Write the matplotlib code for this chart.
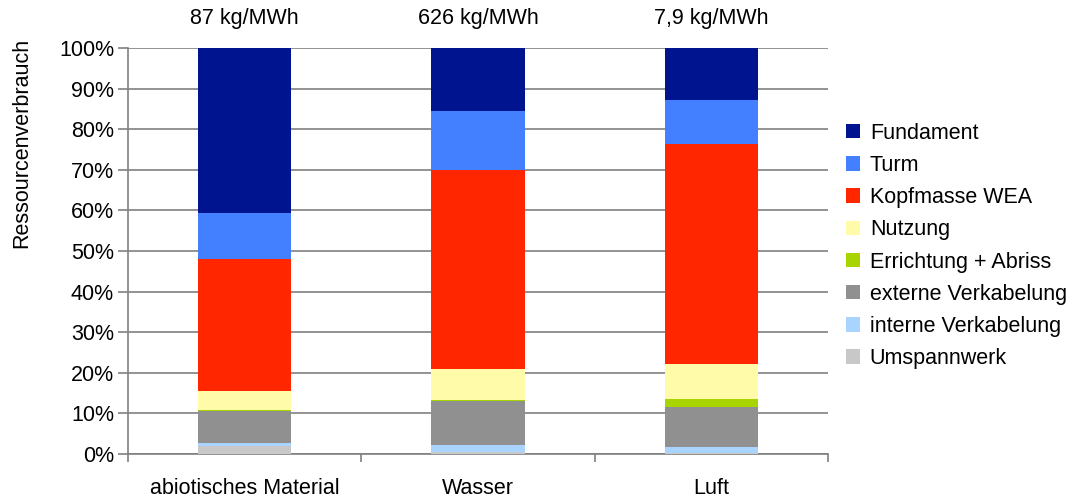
import matplotlib
matplotlib.use("Agg")
import matplotlib.pyplot as plt
from matplotlib.patches import Patch
import numpy as np

plt.rcParams['font.family'] = ['Liberation Sans', 'DejaVu Sans']

categories = ["abiotisches Material", "Wasser", "Luft"]
totals = ["87 kg/MWh", "626 kg/MWh", "7,9 kg/MWh"]

# shares in % (bottom to top)
umspannwerk = [2.0, 0.5, 0.2]
interne = [0.8, 1.7, 1.5]
externe = [7.9, 10.8, 10.0]
errichtung = [0.1, 0.3, 1.8]
nutzung = [4.8, 7.7, 8.7]
kopfmasse = [32.4, 48.9, 54.2]
turm = [11.4, 14.5, 10.8]
fundament = [40.6, 15.6, 12.8]

series = [
    ("Umspannwerk", umspannwerk, "#C8C8C8"),
    ("interne Verkabelung", interne, "#A8D4FF"),
    ("externe Verkabelung", externe, "#909090"),
    ("Errichtung + Abriss", errichtung, "#A8D400"),
    ("Nutzung", nutzung, "#FFFBA8"),
    ("Kopfmasse WEA", kopfmasse, "#FF2600"),
    ("Turm", turm, "#4280FF"),
    ("Fundament", fundament, "#001490"),
]

FS = 15.5

fig = plt.figure(figsize=(10.82, 5.01), dpi=100)
ax = fig.add_axes([0.1183, 0.0938, 0.647, 0.8104])

x = np.arange(len(categories))
bottom = np.zeros(len(categories))
for name, vals, col in series:
    ax.bar(x, vals, width=0.4, bottom=bottom, color=col, edgecolor='none', zorder=3)
    bottom += np.array(vals)

ax.set_xlim(-0.5, 2.5)
ax.set_ylim(0, 100)
ax.set_yticks(np.arange(0, 101, 10))
ax.set_yticklabels([f"{v}%" for v in range(0, 101, 10)], fontsize=FS)
ax.yaxis.grid(True, color='#808080', linewidth=1.2, zorder=0)
ax.set_axisbelow(True)

ax.set_xticks([-0.5, 0.5, 1.5, 2.5])
ax.set_xticklabels([])
ax.set_xticks(x, minor=True)
ax.set_xticklabels(categories, minor=True, fontsize=FS)
ax.tick_params(axis='x', which='minor', length=0, pad=17)
ax.tick_params(axis='x', which='major', length=6, color='#808080', width=1.2)
ax.tick_params(axis='y', length=7, color='#808080', width=1.2, pad=3)

for s in ['top', 'right']:
    ax.spines[s].set_visible(False)
for s in ['left', 'bottom']:
    ax.spines[s].set_color('#808080')
    ax.spines[s].set_linewidth(1.2)

for xi, t in zip(x, totals):
    ax.text(xi, 107.3, t, ha='center', va='center', fontsize=FS, clip_on=False)

fig.text(22 / 1082, 1 - 143 / 501, "Ressourcenverbrauch", rotation=90,
         ha='center', va='center', fontsize=FS)

handles = [Patch(facecolor=col, edgecolor='none', label=name) for name, vals, col in series][::-1]
fig.legend(handles=handles, loc='upper left', bbox_to_anchor=(0.774, 0.772),
           frameon=False, fontsize=FS, handlelength=0.65, handleheight=0.65,
           handletextpad=0.45, labelspacing=0.52, borderaxespad=0)

fig.savefig("out.png", dpi=100)
